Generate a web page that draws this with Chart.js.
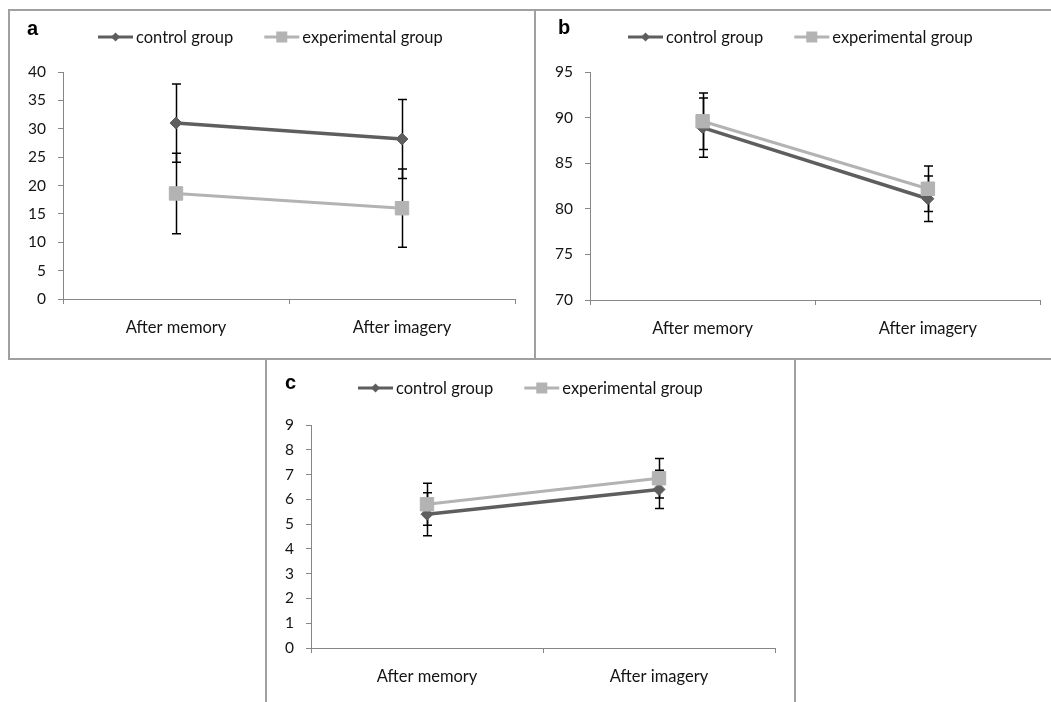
<!DOCTYPE html>
<html><head><meta charset="utf-8">
<script src="https://cdn.jsdelivr.net/npm/chart.js@4.4.1/dist/chart.umd.min.js"></script>
<style>
html,body{margin:0;padding:0;background:#fff;width:1051px;height:702px;overflow:hidden;}
.panel{position:absolute;border:2px solid #a0a0a0;box-sizing:border-box;background:#fff;}
canvas{position:absolute;}
</style></head><body>
<div class="panel" style="left:8px;top:9px;width:528px;height:351px"></div>
<div class="panel" style="left:534px;top:9px;width:530px;height:351px"></div>
<div class="panel" style="left:265px;top:358px;width:531px;height:360px"></div>
<canvas id="ca" width="523" height="346" style="left:10px;top:11px"></canvas>
<canvas id="cb" width="515" height="346" style="left:536px;top:11px"></canvas>
<canvas id="cc" width="526" height="340" style="left:267px;top:360px"></canvas>
<script>
// ---- data ----
const categories = ['After memory', 'After imagery'];
const legendLabels = ['control group', 'experimental group'];
const panelLetters = ['a', 'b', 'c'];

const aControl = [31.0, 28.2];
const aControlErr = [6.9, 6.95];
const aExp = [18.6, 16.0];
const aExpErr = [7.1, 6.9];
const aYRange = [0, 40, 5];

const bControl = [88.9, 81.1];
const bControlErr = [3.25, 2.5];
const bExp = [89.6, 82.2];
const bExpErr = [3.1, 2.5];
const bYRange = [70, 95, 5];

const cControl = [5.4, 6.4];
const cControlErr = [0.87, 0.77];
const cExp = [5.8, 6.85];
const cExpErr = [0.85, 0.8];
const cYRange = [0, 9, 1];

// ---- styles ----
const CONTROL_COLOR = '#5e5e5e';
const EXP_COLOR = '#b3b3b3';
const AXIS_COLOR = '#868686';
const TEXT_COLOR = '#141414';
const FONT_FAMILY = 'Lato, "Open Sans", sans-serif';

const errorBarPlugin = {
  id: 'errorBars',
  beforeDatasetsDraw(chart) {
    const ctx = chart.ctx, yS = chart.scales.y;
    ctx.save();
    ctx.strokeStyle = '#000';
    ctx.lineWidth = 1.5;
    chart.data.datasets.forEach((ds, di) => {
      const meta = chart.getDatasetMeta(di);
      ds.data.forEach((v, i) => {
        const e = ds.errors[i];
        const x = Math.round(meta.data[i].x) + 0.5;
        const yt = yS.getPixelForValue(v + e);
        const yb = yS.getPixelForValue(v - e);
        ctx.beginPath();
        ctx.moveTo(x, yt); ctx.lineTo(x, yb);
        ctx.moveTo(x - 4.5, yt); ctx.lineTo(x + 4.5, yt);
        ctx.moveTo(x - 4.5, yb); ctx.lineTo(x + 4.5, yb);
        ctx.stroke();
      });
    });
    ctx.restore();
  }
};

const decorPlugin = {
  id: 'decor',
  afterDraw(chart, args, opts) {
    const ctx = chart.ctx;
    ctx.save();
    ctx.fillStyle = '#000';
    ctx.font = 'bold 20px "Liberation Sans", Arial, sans-serif';
    ctx.textBaseline = 'middle';
    ctx.textAlign = 'left';
    ctx.fillText(opts.letter, opts.letterX, opts.letterY);
    let x = opts.legendX;
    const y = opts.legendY;
    ctx.font = '16.5px ' + FONT_FAMILY;
    chart.data.datasets.forEach((ds, di) => {
      ctx.strokeStyle = ds.borderColor;
      ctx.fillStyle = ds.borderColor;
      ctx.lineWidth = 3;
      ctx.beginPath();
      ctx.moveTo(x, y); ctx.lineTo(x + 35, y);
      ctx.stroke();
      const cx = x + 17.5;
      ctx.beginPath();
      if (ds.pointStyle === 'rectRot') {
        ctx.moveTo(cx, y - 4.5); ctx.lineTo(cx + 4.5, y); ctx.lineTo(cx, y + 4.5); ctx.lineTo(cx - 4.5, y);
        ctx.closePath();
      } else {
        ctx.rect(cx - 5.5, y - 5.5, 11, 11);
      }
      ctx.fill();
      ctx.fillStyle = TEXT_COLOR;
      ctx.fillText(ds.label, x + 38, y + 1);
      x += 38 + ctx.measureText(ds.label).width + 31;
    });
    ctx.restore();
  }
};

function makeChart(id, control, controlErr, exp, expErr, yRange, layout) {
  const el = document.getElementById(id);
  const W = el.width, H = el.height;
  return new Chart(el, {
    type: 'line',
    data: {
      labels: categories,
      datasets: [
        { label: legendLabels[0], data: control, errors: controlErr,
          borderColor: CONTROL_COLOR, backgroundColor: CONTROL_COLOR,
          pointBackgroundColor: CONTROL_COLOR, pointBorderColor: CONTROL_COLOR,
          borderWidth: 3.5, pointStyle: 'rectRot', pointRadius: 6, pointBorderWidth: 1, order: 1 },
        { label: legendLabels[1], data: exp, errors: expErr,
          borderColor: EXP_COLOR, backgroundColor: EXP_COLOR,
          pointBackgroundColor: EXP_COLOR, pointBorderColor: EXP_COLOR,
          borderWidth: 3, pointStyle: 'rect', pointRadius: 9.5, pointBorderWidth: 1, order: 0 }
      ]
    },
    options: {
      responsive: false, animation: false, devicePixelRatio: 1,
      layout: { padding: { left: 0, top: layout.top, right: W - layout.right, bottom: 0 } },
      plugins: {
        legend: { display: false }, tooltip: { enabled: false },
        decor: { letter: layout.letter, letterX: layout.letterX, letterY: layout.letterY,
                 legendX: layout.legendX, legendY: layout.legendY }
      },
      scales: {
        x: {
          offset: true,
          grid: { offset: true, drawOnChartArea: false, tickLength: 5, color: AXIS_COLOR, lineWidth: 1 },
          border: { color: AXIS_COLOR, width: 1 },
          ticks: { font: { family: FONT_FAMILY, size: 16.5 }, color: TEXT_COLOR, padding: 14 },
          afterFit(s) { s.height = H - layout.bottom; }
        },
        y: {
          min: yRange[0], max: yRange[1],
          grid: { drawOnChartArea: false, tickLength: 5, color: AXIS_COLOR, lineWidth: 1 },
          border: { color: AXIS_COLOR, width: 1 },
          ticks: { stepSize: yRange[2], font: { family: FONT_FAMILY, size: 15.5 }, color: TEXT_COLOR, padding: 12 },
          afterFit(s) { s.width = layout.left; }
        }
      }
    },
    plugins: [errorBarPlugin, decorPlugin]
  });
}

makeChart('ca', aControl, aControlErr, aExp, aExpErr, aYRange,
  { left: 53, right: 505, top: 61, bottom: 288, letter: panelLetters[0], letterX: 17, letterY: 18, legendX: 88, legendY: 26 });
makeChart('cb', bControl, bControlErr, bExp, bExpErr, bYRange,
  { left: 54, right: 506, top: 61, bottom: 289, letter: panelLetters[1], letterX: 22, letterY: 17, legendX: 92, legendY: 26 });
makeChart('cc', cControl, cControlErr, cExp, cExpErr, cYRange,
  { left: 44, right: 508, top: 65, bottom: 288, letter: panelLetters[2], letterX: 18, letterY: 23, legendX: 91, legendY: 28 });
</script>
</body></html>
